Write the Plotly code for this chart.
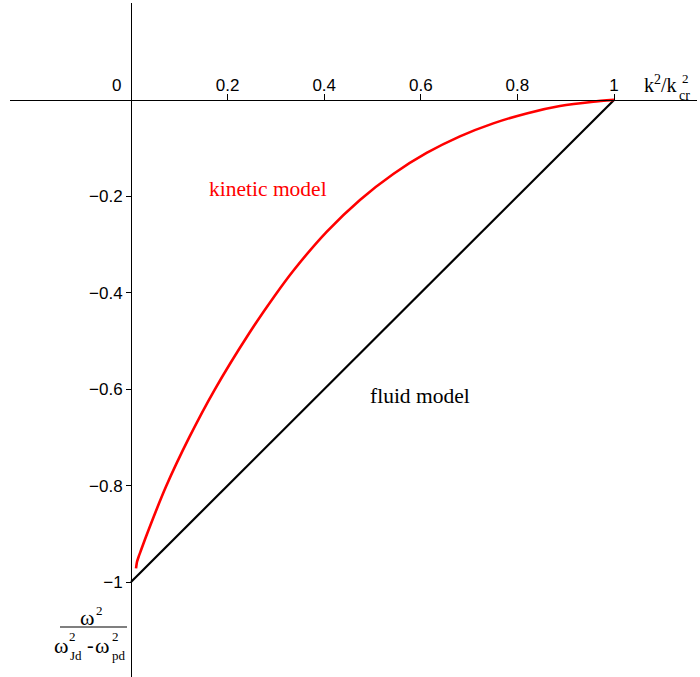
import plotly.graph_objects as go

# ---- data ----
kinetic_x = [0.0104, 0.0125, 0.0160, 0.0193, 0.031, 0.0725, 0.1208, 0.1725, 0.245, 0.298,
             0.336, 0.405, 0.474, 0.543, 0.612, 0.681, 0.750, 0.819, 0.888, 0.957, 1.000]
kinetic_y = [-0.9716, -0.958, -0.947, -0.938, -0.906, -0.802, -0.6996, -0.6024, -0.4835, -0.4056,
             -0.3543, -0.2736, -0.2074, -0.1536, -0.1101, -0.0756, -0.0487, -0.0280, -0.0128, -0.0038, 0.000]
fluid_x = [0.0, 1.0]
fluid_y = [-1.0, 0.0]

x_tickvals = [0.2, 0.4, 0.6, 0.8, 1.0]
x_ticktext = ["0.2", "0.4", "0.6", "0.8", "1"]
y_tickvals = [-1.0, -0.8, -0.6, -0.4, -0.2]
y_ticktext = ["\u22121", "\u22120.8", "\u22120.6", "\u22120.4", "\u22120.2"]

# ---- layout geometry ----
W, H = 700, 677
ML, MR, MT, MB = 10, 3, 3, 0
XR = [-0.2505, 1.1718]
YR = [-1.197, 0.201]
x_pos = (0 - XR[0]) / (XR[1] - XR[0])   # paper x of data x=0
y_pos = (0 - YR[0]) / (YR[1] - YR[0])   # paper y of data y=0

def dx(px):
    return XR[0] + (px - ML) / (W - ML - MR) * (XR[1] - XR[0])

def dy(py):
    return YR[1] - (py - MT) / (H - MT - MB) * (YR[1] - YR[0])

fig = go.Figure()
fig.add_trace(go.Scatter(x=fluid_x, y=fluid_y, mode="lines",
                         line=dict(color="black", width=2.2), showlegend=False,
                         hoverinfo="skip"))
fig.add_trace(go.Scatter(x=kinetic_x, y=kinetic_y, mode="lines",
                         line=dict(color="#ff0000", width=2.6, shape="spline", smoothing=0.6),
                         showlegend=False, hoverinfo="skip"))

axfont = dict(family="Liberation Sans, Arial, sans-serif", size=17, color="black")
serif = "Liberation Serif, Times New Roman, serif"

fig.update_layout(
    width=W, height=H,
    margin=dict(l=ML, r=MR, t=MT, b=MB, pad=0),
    paper_bgcolor="white", plot_bgcolor="white",
    xaxis=dict(range=XR, anchor="free", position=y_pos, side="top",
               showgrid=False, zeroline=False, showline=True, linecolor="black",
               linewidth=1, ticks="outside", ticklen=6, tickcolor="black",
               ticklabelstandoff=-4,
               tickvals=x_tickvals, ticktext=x_ticktext, tickfont=axfont),
    yaxis=dict(range=YR, anchor="free", position=x_pos, side="left",
               showgrid=False, zeroline=False, showline=True, linecolor="black",
               linewidth=1, ticks="outside", ticklen=5, tickcolor="black",
               tickvals=y_tickvals, ticktext=y_ticktext, tickfont=axfont),
)

ann = []
def A(px, py, text, size, color="black", family=serif, xanchor="center", yanchor="middle"):
    ann.append(dict(x=dx(px), y=dy(py), xref="x", yref="y", text=text, showarrow=False,
                    font=dict(family=family, size=size, color=color),
                    xanchor=xanchor, yanchor=yanchor))

# "0" label at origin
A(116, 85, "0", 17, family=axfont["family"])
# curve labels
A(268, 189, "kinetic model", 21.5, color="#ff0000")
A(420, 396, "fluid model", 21.5)
# x axis title  k^2 / k^2_cr
A(642, 84, "k<sup>2</sup>/k", 20, xanchor="left")
A(680, 78, "2", 13, xanchor="left")
A(677, 95, "cr", 14, xanchor="left")
# y axis title  omega^2 / (omega^2_Jd - omega^2_pd)
A(78, 617, "\u03c9", 22, xanchor="left")
A(94, 610, "2", 13, xanchor="left")
A(52, 645, "\u03c9", 22, xanchor="left")
A(67, 636, "2", 13, xanchor="left")
A(68, 655, "Jd", 13, xanchor="left")
A(85, 645, "-", 20, xanchor="left")
A(93, 645, "\u03c9", 22, xanchor="left")
A(110, 636, "2", 13, xanchor="left")
A(110, 655, "pd", 13, xanchor="left")
fig.update_layout(annotations=ann)

fig.add_shape(type="line", xref="x", yref="y", x0=dx(60), x1=dx(127), y0=dy(627), y1=dy(627),
              line=dict(color="#555555", width=1.5))

fig.write_html("out.html")
